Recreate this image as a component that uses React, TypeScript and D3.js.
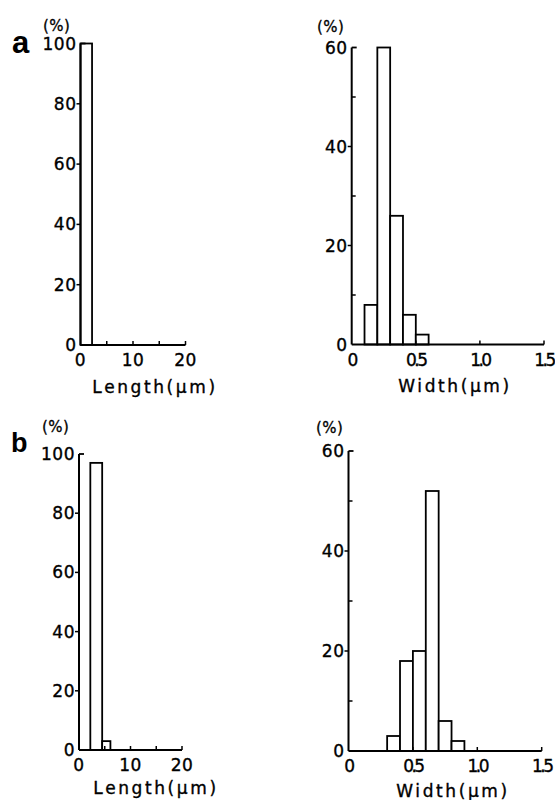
import React from "react";
import * as d3 from "d3";

// ---- data ----
const lengthTickValues = [0, 10, 20];
const lengthMinorTicks = [5, 10, 15, 20];
const widthTickValues = [0, 0.5, 1.0, 1.5];
const widthTickLabels = ["0", "0.5", "1.0", "1.5"];
const widthMinorTicks = [0.5, 1.0, 1.5];
const lengthPctTicks = [0, 20, 40, 60, 80, 100];
const widthPctTicks = [0, 20, 40, 60];
const widthPctMinor = [10, 30, 50];

// panel a
const aLengthStart = [0];
const aLengthEnd = [2.2];
const aLengthPct = [100];
const aWidthStart = [0.1, 0.2, 0.3, 0.4, 0.5];
const aWidthEnd = [0.2, 0.3, 0.4, 0.5, 0.6];
const aWidthPct = [8, 60, 26, 6, 2];

// panel b
const bLengthStart = [2.2, 4.5];
const bLengthEnd = [4.5, 6.1];
const bLengthPct = [97, 3];
const bWidthStart = [0.3, 0.4, 0.5, 0.6, 0.7, 0.8];
const bWidthEnd = [0.4, 0.5, 0.6, 0.7, 0.8, 0.9];
const bWidthPct = [3, 18, 20, 52, 6, 2];

const FONT = "'DejaVu Sans', sans-serif";

type PanelProps = {
  xr: [number, number];
  yr: [number, number];
  xDomain: [number, number];
  yDomain: [number, number];
  starts: number[];
  ends: number[];
  values: number[];
  xTicks: number[];
  xTickLabels: string[];
  xLabelSpacing: number;
  xMinor: number[];
  yTicks: number[];
  yMinor: number[];
  xLabel: string;
  xLabelCenter: number;
  xLabelBaseline: number;
  pctX: number;
  pctY: number;
};

function Panel(p: PanelProps) {
  const x = d3.scaleLinear().domain(p.xDomain).range(p.xr);
  const y = d3.scaleLinear().domain(p.yDomain).range(p.yr);
  const y0 = y(p.yDomain[0]);
  const x0 = x(p.xDomain[0]);
  const yTop = y(p.yDomain[1]);
  return (
    <g>
      {p.values.map((v, i) => (
        <rect
          key={i}
          x={x(p.starts[i])}
          y={y(v)}
          width={x(p.ends[i]) - x(p.starts[i])}
          height={y0 - y(v)}
          fill="#fff"
          stroke="#000"
          strokeWidth={1.8}
        />
      ))}
      <line x1={x0} x2={x0} y1={yTop} y2={y0} stroke="#000" strokeWidth={2} />
      <line x1={x0} x2={p.xr[1]} y1={y0} y2={y0} stroke="#000" strokeWidth={2} />
      <line x1={x0} x2={x0 + 5} y1={yTop} y2={yTop} stroke="#000" strokeWidth={1.8} />
      {p.yTicks.slice(1, -1).map((t) => (
        <line key={"ym" + t} x1={x0 - 4} x2={x0} y1={y(t)} y2={y(t)} stroke="#000" strokeWidth={1.5} />
      ))}
      {p.yMinor.map((t) => (
        <line key={"yn" + t} x1={x0} x2={x0 + 4} y1={y(t)} y2={y(t)} stroke="#000" strokeWidth={1.5} />
      ))}
      {p.xMinor.map((t) => (
        <line key={"xm" + t} x1={x(t)} x2={x(t)} y1={y0} y2={y0 - 4} stroke="#000" strokeWidth={1.5} />
      ))}
      {p.yTicks.map((t) => (
        <text
          key={"yl" + t}
          x={x0 - 4}
          y={y(t) + 6}
          textAnchor="end"
          fontFamily={FONT}
          fontSize={17}
          letterSpacing={0.5}
          stroke="#000"
          strokeWidth={0.35}
        >
          {t}
        </text>
      ))}
      {p.xTicks.map((t, i) => (
        <text
          key={"xl" + t}
          x={x(t)}
          y={y0 + 21}
          textAnchor="middle"
          fontFamily={FONT}
          fontSize={17}
          letterSpacing={p.xLabelSpacing}
          stroke="#000"
          strokeWidth={0.35}
        >
          {p.xTickLabels[i]}
        </text>
      ))}
      <text
        x={p.xLabelCenter}
        y={p.xLabelBaseline}
        textAnchor="middle"
        fontFamily={FONT}
        fontSize={17}
        letterSpacing={2.6}
        stroke="#000"
        strokeWidth={0.35}
      >
        {p.xLabel}
      </text>
      <text x={p.pctX} y={p.pctY} fontFamily={FONT} fontSize={15} letterSpacing={0.5} stroke="#000" strokeWidth={0.3}>
        (%)
      </text>
    </g>
  );
}

export default function App() {
  const lenLabels = lengthTickValues.map(String);
  return (
    <svg
      width={555}
      height={800}
      style={{ position: "absolute", left: 0, top: 0, background: "#fff" }}
    >
      <rect width={555} height={800} fill="#fff" />
      <text x={12} y={53} fontFamily="'Liberation Sans', Arial, sans-serif" fontWeight="bold" fontSize={31}>
        a
      </text>
      <text x={11} y={452} fontFamily="'Liberation Sans', Arial, sans-serif" fontWeight="bold" fontSize={27}>
        b
      </text>
      <Panel
        xr={[80.5, 185.5]}
        yr={[345, 43.5]}
        xDomain={[0, 20]}
        yDomain={[0, 100]}
        starts={aLengthStart}
        ends={aLengthEnd}
        values={aLengthPct}
        xTicks={lengthTickValues}
        xTickLabels={lenLabels}
        xLabelSpacing={0.5}
        xMinor={lengthMinorTicks}
        yTicks={lengthPctTicks}
        yMinor={[]}
        xLabel="Length(μm)"
        xLabelCenter={155}
        xLabelBaseline={393}
        pctX={43}
        pctY={31}
      />
      <Panel
        xr={[351.7, 544]}
        yr={[344.5, 47.5]}
        xDomain={[0, 1.5]}
        yDomain={[0, 60]}
        starts={aWidthStart}
        ends={aWidthEnd}
        values={aWidthPct}
        xTicks={widthTickValues}
        xTickLabels={widthTickLabels}
        xLabelSpacing={-2.5}
        xMinor={widthMinorTicks}
        yTicks={widthPctTicks}
        yMinor={widthPctMinor}
        xLabel="Width(μm)"
        xLabelCenter={455}
        xLabelBaseline={392}
        pctX={317}
        pctY={32}
      />
      <Panel
        xr={[79, 182]}
        yr={[750, 454]}
        xDomain={[0, 20]}
        yDomain={[0, 100]}
        starts={bLengthStart}
        ends={bLengthEnd}
        values={bLengthPct}
        xTicks={lengthTickValues}
        xTickLabels={lenLabels}
        xLabelSpacing={0.5}
        xMinor={lengthMinorTicks}
        yTicks={lengthPctTicks}
        yMinor={[]}
        xLabel="Length(μm)"
        xLabelCenter={156}
        xLabelBaseline={794}
        pctX={42}
        pctY={432}
      />
      <Panel
        xr={[348.5, 541.7]}
        yr={[751, 451]}
        xDomain={[0, 1.5]}
        yDomain={[0, 60]}
        starts={bWidthStart}
        ends={bWidthEnd}
        values={bWidthPct}
        xTicks={widthTickValues}
        xTickLabels={widthTickLabels}
        xLabelSpacing={-2.5}
        xMinor={widthMinorTicks}
        yTicks={widthPctTicks}
        yMinor={widthPctMinor}
        xLabel="Width(μm)"
        xLabelCenter={453}
        xLabelBaseline={797}
        pctX={316}
        pctY={433}
      />
    </svg>
  );
}
